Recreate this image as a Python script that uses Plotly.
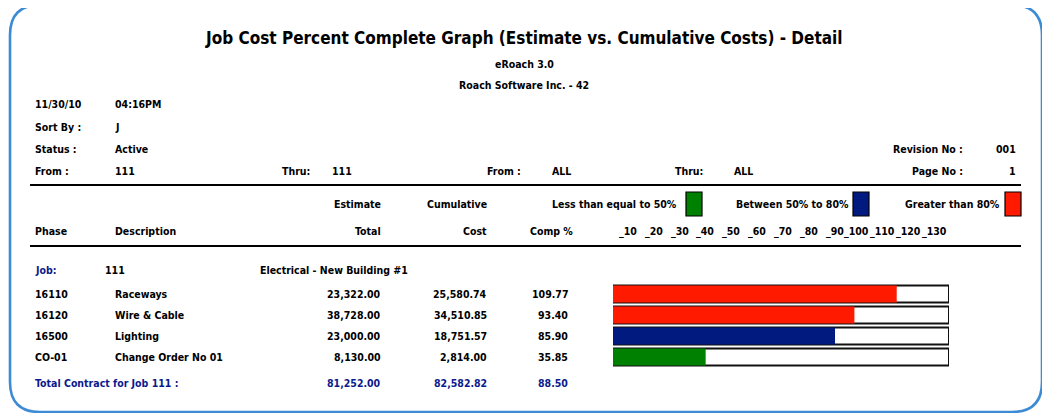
import plotly.graph_objects as go

# ---------------- data ----------------
title = "Job Cost Percent Complete Graph (Estimate vs. Cumulative Costs) - Detail"
subtitle1 = "eRoach 3.0"
subtitle2 = "Roach Software Inc. - 42"
report_date = "11/30/10"
report_time = "04:16PM"
sort_by = "J"
status = "Active"
job_from, job_thru = "111", "111"
phase_from, phase_thru = "ALL", "ALL"
revision_no = "001"
page_no = "1"

legend_labels = ["Less than equal to 50%", "Between 50% to 80%", "Greater than 80%"]
legend_keys = ["le50", "50to80", "gt80"]

job_no = "111"
job_desc = "Electrical - New Building #1"

phases = ["16110", "16120", "16500", "CO-01"]
descriptions = ["Raceways", "Wire & Cable", "Lighting", "Change Order No 01"]
estimates = [23322.00, 38728.00, 23000.00, 8130.00]
costs = [25580.74, 34510.85, 18751.57, 2814.00]
comp_pct = [109.77, 93.40, 85.90, 35.85]
bands = ["gt80", "gt80", "50to80", "le50"]

total_label = "Total Contract for Job 111 :"
total_estimate = 81252.00
total_cost = 82582.82
total_comp = 88.50

scale_ticks = [10, 20, 30, 40, 50, 60, 70, 80, 90, 100, 110, 120, 130]
scale_max = 130

# ---------------- styles ----------------
band_colors = {"le50": "#008000", "50to80": "#001a80", "gt80": "#ff1a00"}
NAVY = "#0b1a8c"
FONT = "DejaVu Sans Condensed, Liberation Sans Narrow, Arial Narrow, sans-serif"
FS = 10.5

# page offset (body margin) and figure size
OX, OY = 8, 8
W, H = 1042, 405

fig = go.Figure()
ann = []


def txt(x, y, s, anchor="left", size=FS, color="black", xref="x", yref="y"):
    ann.append(dict(x=x, y=y, xref=xref, yref=yref, text="<b>%s</b>" % s, showarrow=False,
                    xanchor=anchor, yanchor="middle",
                    font=dict(family=FONT, size=size, color=color)))


# header
txt(524, 38, title, "center", size=17)
txt(524, 64, subtitle1, "center")
txt(524, 85, subtitle2, "center")
txt(33, 104, report_date)
txt(113, 104, report_time)
txt(33, 127, "Sort By :")
txt(113, 127, sort_by)
txt(33, 149, "Status :")
txt(113, 149, status)
txt(965, 149, "Revision No :", "right")
txt(1018, 149, revision_no, "right")
txt(33, 171, "From :")
txt(113, 171, job_from)
txt(280, 171, "Thru:")
txt(330, 171, job_thru)
txt(523, 171, "From :", "right")
txt(550, 171, phase_from)
txt(673, 171, "Thru:")
txt(732, 171, phase_thru)
txt(965, 171, "Page No :", "right")
txt(1018, 171, page_no, "right")

# legend
legend_text_right = [679, 851, 1002]
legend_box_left = [686, 853, 1005]
for lab, key, xr, bl in zip(legend_labels, legend_keys, legend_text_right, legend_box_left):
    txt(xr, 204, lab, "right")
    fig.add_shape(type="rect", xref="x", yref="y", x0=bl, x1=bl + 16, y0=192, y1=216,
                  fillcolor=band_colors[key], line=dict(color="black", width=1.2))

# column headers
txt(383, 204, "Estimate", "right")
txt(489, 204, "Cumulative", "right")
txt(33, 231, "Phase")
txt(113, 231, "Description")
txt(383, 231, "Total", "right")
txt(489, 231, "Cost", "right")
txt(528, 231, "Comp %")
for t in scale_ticks:
    ann.append(dict(x=t, y=231, xref="x2", yref="y", text="<b>_%s</b>" % t, showarrow=False,
                    xanchor="right", yanchor="middle",
                    font=dict(family=FONT, size=FS, color="black")))

# rules
for yl in (185, 246):
    fig.add_shape(type="line", xref="x", yref="y", x0=30, x1=1021, y0=yl, y1=yl,
                  line=dict(color="black", width=2.2))

# job line
txt(33, 270, "Job:", color=NAVY)
txt(103, 270, job_no)
txt(258, 270, job_desc)

# detail rows
ROW0, PITCH = 294, 21
for i, (ph, de, es, co, cp) in enumerate(zip(phases, descriptions, estimates, costs, comp_pct)):
    y = ROW0 + PITCH * i
    txt(33, y, ph)
    txt(113, y, de)
    txt(383, y, f"{es:,.2f}", "right")
    txt(489, y, f"{co:,.2f}", "right")
    txt(570, y, f"{cp:.2f}", "right")

# totals
txt(33, 383, total_label, color=NAVY)
txt(383, 383, f"{total_estimate:,.2f}", "right", color=NAVY)
txt(489, 383, f"{total_cost:,.2f}", "right", color=NAVY)
txt(570, 383, f"{total_comp:.2f}", "right", color=NAVY)

# bars: background boxes then filled portion
rows = list(range(len(phases)))
fig.add_trace(go.Bar(x=[scale_max] * len(rows), y=rows, orientation="h", xaxis="x2", yaxis="y2",
                     marker=dict(color="white", line=dict(color="#111", width=2)),
                     width=0.8, hoverinfo="skip", showlegend=False))
fig.add_trace(go.Bar(x=comp_pct, y=rows, orientation="h", xaxis="x2", yaxis="y2",
                     marker=dict(color=[band_colors[b] for b in bands], line=dict(width=0)),
                     width=0.8, hoverinfo="skip", showlegend=False))

# rounded frame
r = 30
x0, x1, y0, y1 = 10, 1042, 5, 412
path = (f"M {x0+r},{y0} L {x1-r},{y0} Q {x1},{y0} {x1},{y0+r} L {x1},{y1-r} "
        f"Q {x1},{y1} {x1-r},{y1} L {x0+r},{y1} Q {x0},{y1} {x0},{y1-r} "
        f"L {x0},{y0+r} Q {x0},{y0} {x0+r},{y0} Z")
fig.add_shape(type="path", path=path, xref="x", yref="y", line=dict(color="#3d8bd4", width=2.6))

top_px = ROW0 - PITCH / 2
bot_px = ROW0 + PITCH * (len(rows) - 1) + PITCH / 2


def fx(px):
    return (px - OX) / W


def fy(py):
    return 1 - (py - OY) / H


fig.update_layout(
    width=W, height=H, autosize=False,
    margin=dict(l=0, r=0, t=0, b=0),
    paper_bgcolor="white", plot_bgcolor="rgba(0,0,0,0)",
    barmode="overlay", showlegend=False,
    xaxis=dict(range=[OX, OX + W], visible=False, domain=[0, 1], fixedrange=True),
    yaxis=dict(range=[OY + H, OY], visible=False, domain=[0, 1], fixedrange=True),
    xaxis2=dict(range=[0, scale_max], visible=False, domain=[fx(613), fx(949)], anchor="y2"),
    yaxis2=dict(range=[len(rows) - 0.5, -0.5], visible=False,
                domain=[fy(bot_px), fy(top_px)], anchor="x2"),
    annotations=ann,
)
fig.write_html("out.html")
